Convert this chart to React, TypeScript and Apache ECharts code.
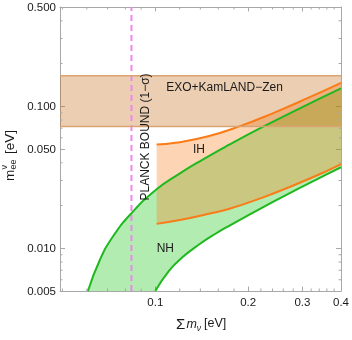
import React, { useEffect, useRef } from "react";
import * as echarts from "echarts";

// ---- axis ranges & ticks ----
const X_MIN = 0.0491;
const X_MAX = 0.4;
const Y_MIN = 0.005;
const Y_MAX = 0.5;
const xMajor = [0.1, 0.2, 0.3, 0.4];
const xMajorLabels = ["0.1", "0.2", "0.3", "0.4"];
const xMinor = [0.05, 0.06, 0.07, 0.08, 0.09, 0.12, 0.14, 0.16, 0.18, 0.22, 0.24, 0.26, 0.28, 0.32, 0.34, 0.36, 0.38];
const yMajor = [0.005, 0.01, 0.05, 0.1, 0.5];
const yMajorLabels = ["0.005", "0.010", "0.050", "0.100", "0.500"];
const yMinor = [0.006, 0.007, 0.008, 0.009, 0.02, 0.03, 0.04, 0.06, 0.07, 0.08, 0.09, 0.2, 0.3, 0.4];

// ---- data (Σm_ν [eV], m_ee [eV]) ----
const nhUpperSum = [0.0605, 0.066, 0.0729, 0.0835, 0.101, 0.1195, 0.142, 0.173, 0.2189, 0.2908, 0.4];
const nhUpperMee = [0.005, 0.0082, 0.01209, 0.01755, 0.02603, 0.03342, 0.04194, 0.05339, 0.07012, 0.09556, 0.1335];
const nhLowerSum = [0.1, 0.1109, 0.1224, 0.1386, 0.1568, 0.173, 0.2215, 0.2838, 0.3633, 0.4];
const nhLowerMee = [0.005, 0.006956, 0.008628, 0.01063, 0.01265, 0.01433, 0.01928, 0.02557, 0.03352, 0.03718];
const ihUpperSum = [0.101, 0.116, 0.1484, 0.1902, 0.2433, 0.3115, 0.4];
const ihUpperMee = [0.05373, 0.05526, 0.06148, 0.07311, 0.09029, 0.114, 0.1462];
const ihLowerSum = [0.101, 0.1224, 0.1492, 0.173, 0.2215, 0.2838, 0.3633, 0.4];
const ihLowerMee = [0.01485, 0.01593, 0.01747, 0.01888, 0.02264, 0.02801, 0.03536, 0.0391];
const exoBand = [0.072, 0.164];
const planckBound = 0.0837;

const L = (v: number) => Math.log10(v);
const zip = (xs: number[], ys: number[]) => xs.map((x, i) => [L(x), L(ys[i])]);

const FONT = '"Liberation Sans", Arial, sans-serif';
const FRAME = "#a8a8a8";
const GREEN = "#1fb81f";
const ORANGE = "#f97c18";
const NH_FILL = "rgba(18,196,8,0.32)";
const IH_FILL = "rgba(249,124,24,0.32)";
const EXO_FILL = "rgba(194,100,7,0.31)";
const EXO_LINE = "#d9a372";

function fmt(values: number[], labels: string[]) {
  return (v: number) => {
    const i = values.findIndex((t) => Math.abs(L(t) - v) < 1e-6);
    return i >= 0 ? labels[i] : "";
  };
}

function polySeries(poly: number[][], color: string) {
  return {
    type: "custom",
    xAxisIndex: 0,
    yAxisIndex: 0,
    silent: true,
    data: [poly[0]],
    renderItem: (_p: any, api: any) => ({
      type: "polygon",
      shape: { points: poly.map((pt) => api.coord(pt)) },
      style: { fill: color, stroke: "none" },
    }),
  };
}

function lineSeries(data: number[][], color: string, width = 2, type: any = "solid", smooth: any = 0.5) {
  return {
    type: "line",
    xAxisIndex: 0,
    yAxisIndex: 0,
    data,
    showSymbol: false,
    symbol: "none",
    smooth,
    silent: true,
    lineStyle: { color, width, type },
  };
}

export default function App() {
  const ref = useRef<HTMLDivElement>(null);
  useEffect(() => {
    if (!ref.current) return;
    const chart = echarts.init(ref.current, null, { renderer: "svg" });
    const nhUpper = zip(nhUpperSum, nhUpperMee);
    const nhLower = zip(nhLowerSum, nhLowerMee);
    const ihUpper = zip(ihUpperSum, ihUpperMee);
    const ihLower = zip(ihLowerSum, ihLowerMee);
    const nhPoly = [...nhUpper, ...nhLower.slice().reverse()];
    const ihPoly = [...ihUpper, ...ihLower.slice().reverse()];
    const exoPoly = [
      [L(X_MIN), L(exoBand[0])],
      [L(X_MAX), L(exoBand[0])],
      [L(X_MAX), L(exoBand[1])],
      [L(X_MIN), L(exoBand[1])],
    ];
    const minorTickSeries = (vals: number[], isX: boolean) => ({
      type: "custom",
      xAxisIndex: 0,
      yAxisIndex: 0,
      silent: true,
      data: vals.map((v) => (isX ? [L(v), L(Y_MIN)] : [L(X_MIN), L(v)])),
      renderItem: (_p: any, api: any) => {
        const len = 2.5;
        const st = { stroke: FRAME, lineWidth: 1 };
        if (isX) {
          const v = api.value(0);
          const b = api.coord([v, L(Y_MIN)]);
          const t = api.coord([v, L(Y_MAX)]);
          return {
            type: "group",
            children: [
              { type: "line", shape: { x1: b[0], y1: b[1], x2: b[0], y2: b[1] - len }, style: st },
              { type: "line", shape: { x1: t[0], y1: t[1], x2: t[0], y2: t[1] + len }, style: st },
            ],
          };
        }
        const v = api.value(1);
        const l = api.coord([L(X_MIN), v]);
        const r = api.coord([L(X_MAX), v]);
        return {
          type: "group",
          children: [
            { type: "line", shape: { x1: l[0], y1: l[1], x2: l[0] + len, y2: l[1] }, style: st },
            { type: "line", shape: { x1: r[0], y1: r[1], x2: r[0] - len, y2: r[1] }, style: st },
          ],
        };
      },
    });

    const xBase = (position: string, showLabel: boolean) => ({
      type: "value",
      position,
      min: L(X_MIN),
      max: L(X_MAX),
      splitLine: { show: false },
      axisLine: { show: true, onZero: false, lineStyle: { color: FRAME, width: 1 } },
      axisTick: { show: true, inside: true, length: 4.5, customValues: xMajor.map(L), lineStyle: { color: FRAME } },
      axisLabel: {
        show: showLabel,
        customValues: xMajor.map(L),
        formatter: fmt(xMajor, xMajorLabels),
        color: "#1a1a1a",
        fontSize: 11.5,
        fontFamily: FONT,
        margin: 5,
      },
    });
    const yBase = (position: string, showLabel: boolean) => ({
      type: "value",
      position,
      min: L(Y_MIN),
      max: L(Y_MAX),
      splitLine: { show: false },
      axisLine: { show: true, onZero: false, lineStyle: { color: FRAME, width: 1 } },
      axisTick: { show: true, inside: true, length: 5, customValues: yMajor.map(L), lineStyle: { color: FRAME } },
      axisLabel: {
        show: showLabel,
        customValues: yMajor.map(L),
        formatter: fmt(yMajor, yMajorLabels),
        color: "#1a1a1a",
        fontSize: 11.5,
        fontFamily: FONT,
        margin: 4,
      },
    });

    const txt = (text: string, x: number, y: number, size: number, extra: any = {}) => ({
      type: "text",
      x,
      y,
      z: 100,
      silent: true,
      rotation: extra.rotation || 0,
      style: {
        text,
        fill: "#1a1a1a",
        font: `${extra.italic ? "italic " : ""}${size}px ${FONT}`,
        align: extra.align || "center",
        verticalAlign: "middle",
      },
    });

    chart.setOption({
      animation: false,
      grid: { left: 60, right: 9, top: 7, bottom: 49, containLabel: false },
      xAxis: [xBase("bottom", true), xBase("top", false)],
      yAxis: [yBase("left", true), yBase("right", false)],
      series: [
        lineSeries([[L(planckBound), L(Y_MIN)], [L(planckBound), L(Y_MAX)]], "#ee86ee", 2, [6, 4], false),
        polySeries(nhPoly, NH_FILL),
        lineSeries(nhUpper, GREEN),
        lineSeries(nhLower, GREEN),
        polySeries(ihPoly, IH_FILL),
        lineSeries(ihUpper, ORANGE),
        lineSeries(ihLower, ORANGE),
        polySeries(exoPoly, EXO_FILL),
        lineSeries([[L(X_MIN), L(exoBand[0])], [L(X_MAX), L(exoBand[0])]], EXO_LINE, 1.5, "solid", false),
        lineSeries([[L(X_MIN), L(exoBand[1])], [L(X_MAX), L(exoBand[1])]], EXO_LINE, 1.5, "solid", false),
        minorTickSeries(xMinor, true),
        minorTickSeries(yMinor, false),
      ],
      graphic: [
        txt("EXO+KamLAND\u2212Zen", 224.5, 86.5, 12),
        txt("IH", 199, 149, 12),
        txt("NH", 165.3, 248, 12),
        txt("PLANCK BOUND (1\u2212\u03c3)", 145, 137, 12, { rotation: Math.PI / 2 }),
        // x axis title
        txt("\u03a3", 176, 323, 15, { align: "left" }),
        txt("m", 186.5, 323.5, 12.5, { align: "left", italic: true }),
        txt("\u03bd", 196.8, 327.5, 8.5, { align: "left", italic: true }),
        txt("[eV]", 204, 323, 12.5, { align: "left" }),
        // y axis title (rotated)
        {
          type: "group",
          x: 9,
          y: 151,
          rotation: Math.PI / 2,
          z: 100,
          children: [
            txt("m", -30, 0, 13.5, { align: "left" }),
            txt("\u03bd", -18.5, -4.8, 9, { align: "left" }),
            txt("ee", -18.5, 4, 9, { align: "left" }),
            txt("[eV]", -3, 0, 13.5, { align: "left" }),
          ],
        },
      ],
    });

    return () => {
      chart.dispose();
    };
  }, []);
  return <div ref={ref} style={{ position: "fixed", left: 0, top: 0, width: 352, height: 340 }} />;
}
